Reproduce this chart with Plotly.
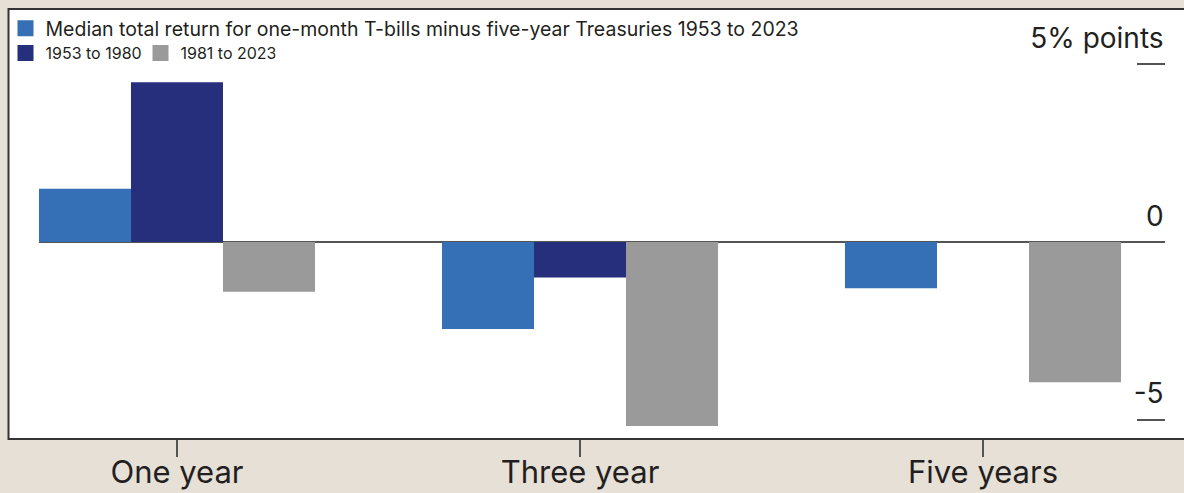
import plotly.graph_objects as go

categories = ["One year", "Three year", "Five years"]
series_names = [
    "Median total return for one-month T-bills minus five-year Treasuries 1953 to 2023",
    "1953 to 1980",
    "1981 to 2023",
]
median_all = [1.5, -2.45, -1.3]
median_1953_1980 = [4.5, -1.0, 0.0]
median_1981_2023 = [-1.4, -5.18, -3.95]
y_tickvals = [5, 0, -5]
y_ticktext = ["5% points", "0", "-5"]

colors = ["#356FB5", "#252F7B", "#9A9A9A"]
BEIGE = "#E6E0D7"
FONT = "Inter, Lato, sans-serif"
TXT = "#231F20"
W, H = 1184, 493
L, R, T, B = 39, 19, 9, 54
pw = W - L - R
ph = H - T - B

fig = go.Figure()
legends = ["legend", "legend2", "legend2"]
for name, vals, col, lg in zip(series_names,
                               [median_all, median_1953_1980, median_1981_2023],
                               colors, legends):
    fig.add_trace(go.Bar(x=categories, y=vals, name=name, marker_color=col,
                         marker_line_width=0, legendgroup=name, showlegend=False))
    # legend swatch (square) for the series
    fig.add_trace(go.Scatter(x=[None], y=[None], mode="markers", name=name,
                             legendgroup=name, legend=lg, showlegend=True,
                             marker=dict(symbol="square", size=16, color=col)))

fig.add_shape(type="rect", xref="paper", yref="paper",
              x0=(8.5 - L) / pw, x1=1.1, y0=0, y1=1,
              fillcolor="white", line=dict(color="#333333", width=2), layer="below")

leg_x = (5.5 - L) / pw
fig.update_layout(
    width=W, height=H,
    margin=dict(l=L, r=R, t=T, b=B, pad=0, autoexpand=False),
    paper_bgcolor=BEIGE,
    plot_bgcolor="rgba(0,0,0,0)",
    showlegend=True,
    barmode="group", bargap=0.315, bargroupgap=0,
    font=dict(family=FONT, color=TXT),
    legend=dict(x=leg_x, y=1 - (9 - T) / ph,
                xanchor="left", yanchor="top",
                orientation="h", bgcolor="rgba(0,0,0,0)",
                font=dict(size=19.5, family=FONT, color=TXT)),
    legend2=dict(x=leg_x, y=1 - (36 - T) / ph,
                 xanchor="left", yanchor="top",
                 orientation="h", bgcolor="rgba(0,0,0,0)",
                 entrywidth=90, entrywidthmode="pixels",
                 font=dict(size=16, family=FONT, color=TXT)),
    xaxis=dict(range=[-0.3424, 2.4516], showgrid=False, zeroline=False,
               showline=False, ticks="outside", ticklen=17, tickwidth=2,
               tickcolor="#555555", ticklabelstandoff=-11,
               tickfont=dict(size=31, family=FONT, color=TXT)),
    yaxis=dict(range=[-5.549, 6.563], side="right", showgrid=False,
               zeroline=True, zerolinecolor="#555555", zerolinewidth=2,
               showline=False, ticks="inside", ticklen=28, tickwidth=2,
               tickcolor="#555555", tickvals=y_tickvals, ticktext=y_ticktext,
               ticklabelposition="inside", ticklabelshift=-26,
               ticklabelstandoff=-24,
               tickfont=dict(size=28, family=FONT, color=TXT)),
)

fig.write_html(
    "out.html",
    config={"displayModeBar": False},
    post_script=(
        "document.body.style.margin='0';"
        "document.body.style.background='" + BEIGE + "';"
        "document.documentElement.style.background='" + BEIGE + "';"
    ),
)
